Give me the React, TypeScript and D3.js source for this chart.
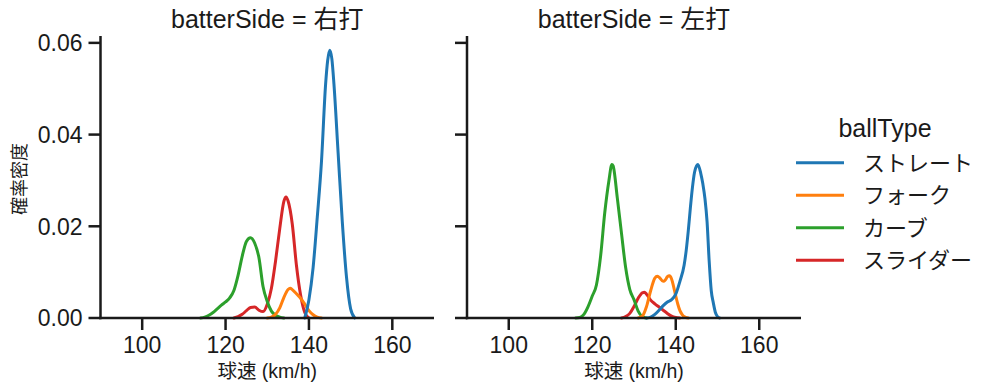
import React from "react";
import * as d3 from "d3";

const ballTypes = ["ストレート", "フォーク", "カーブ", "スライダー"];
const batterSides = ["右打", "左打"];
const colors = ["#1f77b4", "#ff7f0e", "#2ca02c", "#d62728"];
const xTickValues = [100, 120, 140, 160];
const yTickValues = [0, 0.02, 0.04, 0.06];

// batterSide = 右打 : [speed km/h, density]
const rightStraight: [number, number][] = [
  [139, 0], [140, 0.004], [141, 0.011], [142, 0.022], [143, 0.034], [144, 0.051], [144.5, 0.0562],
  [145, 0.0584], [145.5, 0.0565], [146, 0.051], [147, 0.036], [148, 0.021], [149, 0.009], [150, 0.002], [151, 0],
];
const rightFork: [number, number][] = [
  [130, 0], [131, 0.0002], [132, 0.0008], [133, 0.0022], [134, 0.0045], [135, 0.0062], [135.5, 0.0065],
  [136, 0.0062], [137, 0.0053], [138, 0.0043], [139, 0.003], [140, 0.0016], [141, 0.0007], [142, 0.0002], [143, 0],
];
const rightCurve: [number, number][] = [
  [114, 0], [115, 0.0002], [116, 0.0006], [117, 0.0012], [118, 0.002], [119, 0.0028], [120, 0.0035],
  [121, 0.0044], [122, 0.006], [123, 0.0093], [124, 0.0135], [125, 0.0167], [126, 0.0175], [127, 0.0163],
  [128, 0.0132], [129, 0.0068], [130, 0.0036], [131, 0.0015], [132, 0.0006], [133, 0.0002], [134, 0],
];
const rightSlider: [number, number][] = [
  [122, 0], [123, 0.0003], [124, 0.0008], [125, 0.0016], [126, 0.0023], [127, 0.0024], [128, 0.0017],
  [129, 0.0014], [130, 0.003], [131, 0.0065], [132, 0.0125], [133, 0.0195], [134, 0.0255], [134.5, 0.0264],
  [135, 0.0255], [136, 0.0205], [137, 0.0115], [138, 0.005], [139, 0.0012], [140, 0],
];

// batterSide = 左打
const leftStraight: [number, number][] = [
  [133, 0], [134, 0.0002], [135, 0.0008], [136, 0.0017], [137, 0.0027], [138, 0.0035], [139, 0.004],
  [140, 0.0052], [141, 0.008], [142, 0.0115], [142.5, 0.0147], [143, 0.019], [143.5, 0.024], [144, 0.0285],
  [144.5, 0.0318], [145, 0.0332], [145.3, 0.0335], [146, 0.0315], [146.5, 0.0292], [147, 0.026],
  [147.5, 0.021], [148, 0.0125], [148.5, 0.006], [149, 0.0033], [149.5, 0.0012], [150, 0.0003], [150.5, 0],
];
const leftFork: [number, number][] = [
  [131, 0], [132, 0.0004], [133, 0.0025], [134, 0.006], [135, 0.0087], [135.6, 0.0091], [136, 0.0089],
  [137, 0.008], [137.5, 0.0083], [138, 0.009], [138.5, 0.0092], [139, 0.0085], [139.5, 0.0068],
  [140, 0.0048], [140.5, 0.003], [141, 0.0016], [141.5, 0.0008], [142, 0.0003], [143, 0],
];
const leftCurve: [number, number][] = [
  [116, 0], [117, 0.0001], [118, 0.0008], [119, 0.0025], [120, 0.0048], [121, 0.0072], [122, 0.0135],
  [123, 0.023], [124, 0.03], [124.7, 0.0335], [125, 0.0332], [126, 0.0262], [127, 0.0185], [128, 0.011],
  [129, 0.0062], [130, 0.004], [131, 0.0015], [132, 0.0003], [133, 0],
];
const leftSlider: [number, number][] = [
  [127, 0], [128, 0.0003], [129, 0.001], [130, 0.0025], [131, 0.0043], [132, 0.0055], [132.5, 0.0056],
  [133, 0.0052], [134, 0.0039], [135, 0.0031], [136, 0.0024], [137, 0.0017], [138, 0.001], [139, 0.0004],
  [140, 0.0001], [141, 0],
];

const facetSeries = [
  [rightStraight, rightFork, rightCurve, rightSlider],
  [leftStraight, leftFork, leftCurve, leftSlider],
];

const FONT = "'Liberation Sans', 'Noto Sans CJK JP', sans-serif";
const INK = "#1a1a1a";

export default function App() {
  const panels = [
    { x0: 100.5, x1: 434 },
    { x0: 467, x1: 801 },
  ];
  const yTop = 36;
  const yBottom = 318;
  const y = d3.scaleLinear().domain([0, 0.0615]).range([yBottom, yTop]);

  return (
    <svg
      width={995}
      height={391}
      style={{ position: "absolute", left: 0, top: 0, background: "#fff", fontFamily: FONT }}
    >
      <rect width={995} height={391} fill="#fff" />
      {panels.map((p, pi) => {
        const x = d3.scaleLinear().domain([90, 170]).range([p.x0, p.x1]);
        const line = d3
          .line<[number, number]>()
          .x((d) => x(d[0]))
          .y((d) => y(d[1]))
          .curve(d3.curveMonotoneX);
        const cx = (p.x0 + p.x1) / 2;
        const order = [3, 2, 1, 0];
        return (
          <g key={pi}>
            {order.map((si) => (
              <path
                key={si}
                d={line(facetSeries[pi][si]) || ""}
                fill="none"
                stroke={colors[si]}
                strokeWidth={3}
                strokeLinejoin="round"
                strokeLinecap="round"
              />
            ))}
            <line x1={p.x0} x2={p.x0} y1={yTop} y2={yBottom + 1.2} stroke={INK} strokeWidth={2.5} />
            <line x1={p.x0 - 1.2} x2={p.x1} y1={yBottom} y2={yBottom} stroke={INK} strokeWidth={2.5} />
            {yTickValues.map((t) => (
              <g key={t}>
                <line x1={p.x0 - 12} x2={p.x0} y1={y(t)} y2={y(t)} stroke={INK} strokeWidth={2.5} />
                {pi === 0 && (
                  <text x={p.x0 - 18} y={y(t)} dy="0.36em" textAnchor="end" fontSize={23} fill={INK}>
                    {t.toFixed(2)}
                  </text>
                )}
              </g>
            ))}
            {xTickValues.map((t) => (
              <g key={t}>
                <line x1={x(t)} x2={x(t)} y1={yBottom} y2={yBottom + 12} stroke={INK} strokeWidth={2.5} />
                <text x={x(t)} y={353} textAnchor="middle" fontSize={23} fill={INK}>
                  {t}
                </text>
              </g>
            ))}
            <text x={cx} y={28} textAnchor="middle" fontSize={25} fill={INK}>
              {`batterSide = ${batterSides[pi]}`}
            </text>
            <text x={cx} y={378} textAnchor="middle" fontSize={19.5} fill={INK}>
              球速 (km/h)
            </text>
          </g>
        );
      })}
      <text transform={`translate(26, ${(yTop + yBottom) / 2 + 2}) rotate(-90)`} textAnchor="middle" fontSize={18} fill={INK}>
        確率密度
      </text>
      <text x={885} y={137} textAnchor="middle" fontSize={25} fill={INK}>
        ballType
      </text>
      {ballTypes.map((b, i) => {
        const ly = 162.7 + i * 32.5;
        return (
          <g key={b}>
            <line x1={796} x2={844} y1={ly} y2={ly} stroke={colors[i]} strokeWidth={3} />
            <text x={863} y={ly} dy="0.36em" fontSize={22} fill={INK}>
              {b}
            </text>
          </g>
        );
      })}
    </svg>
  );
}
